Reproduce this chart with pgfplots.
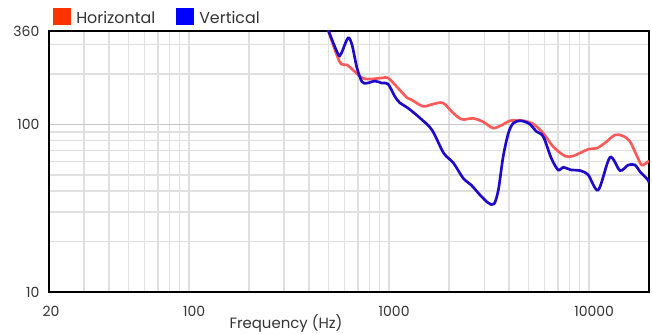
\documentclass[border=0pt]{standalone}
\usepackage{fontspec}
\setmainfont{Poppins}
\usepackage{pgfplots}
\pgfplotsset{compat=1.18}
\definecolor{hline}{RGB}{255,90,90}
\definecolor{vline}{RGB}{30,10,200}
\definecolor{hleg}{RGB}{255,51,0}
\definecolor{vleg}{RGB}{0,0,255}
\definecolor{txt}{RGB}{51,51,51}
\begin{document}
\begin{tikzpicture}
\begin{axis}[
  scale only axis,
  width=450pt, height=195.75pt,
  xmode=log, ymode=log,
  xmin=20, xmax=20000, ymin=10, ymax=360,
  xtick={20,100,1000,10000}, xticklabels={20,\kern5pt 100,\kern5pt 1000,\kern5pt 10000},
  ytick={10,100,360}, yticklabels={10,100,360},
  minor xtick={30,40,50,60,70,80,90,200,300,400,500,600,700,800,900,2000,3000,4000,5000,6000,7000,8000,9000},
  minor ytick={20,30,40,50,60,70,80,90,200,300},
  xmajorgrids, ymajorgrids, xminorgrids, yminorgrids,
  major tick length=0pt, minor tick length=0pt,
  major x grid style={color=black!13, line width=1.1pt},
  major y grid style={color=black!22, line width=1.1pt},
  minor grid style={color=black!12, line width=1.1pt},
  axis line style={black, line width=1.1pt},
  /pgf/number format/assume math mode=true,
  ticklabel style={font=\fontsize{10.5}{12}\selectfont, text=txt},
  xticklabel style={anchor=base, yshift=-18pt, xshift=1.5pt},
  yticklabel style={anchor=east, inner sep=0pt, xshift=-7pt},
]
\addplot[hline, line width=2pt, smooth] coordinates {
(474,419) (497,365) (545,266) (577,229) (618,226) (662,211) (735,189) (805,186)
(925,189) (991,189) (1099,167) (1233,144) (1300,140) (1483,128) (1664,132) (1867,134)
(2094,117) (2323,107) (2636,108.5) (2958,103.5) (3319,95) (3682,99) (4036,105)
(4700,105) (5300,100) (5920,88.5) (6640,73.5) (7600,64.7) (8350,64.7) (9930,71)
(10960,72) (12050,77.5) (13520,86.4) (14850,85.2) (16070,78.9) (17320,65.6)
(18390,57.2) (19750,59.8) (20000,60)
};
\addplot[vline, line width=2pt, smooth] coordinates {
(474,419) (497,365) (557,263) (577,263) (625,327) (655,297) (693,217) (735,179)
(778,176) (853,181) (925,176) (991,174) (1074,146) (1138,134) (1247,125) (1432,109)
(1644,92.5) (1880,67.4) (2104,58.8) (2357,47.6) (2580,43.5) (2858,37.9) (3140,34)
(3358,33.5) (3530,40.6) (3730,64) (3960,88.5) (4190,101.5) (4530,105) (4800,103.5)
(5080,100) (5480,90.5) (5920,84.5) (6500,62.6) (7030,53.4) (7440,55.4) (8200,53.4)
(9040,53) (9930,49.9) (11150,40.6) (12760,63.5) (14320,53) (15750,57.2) (17020,57.2)
(18030,52.2) (19750,46.6) (20000,44.7)
};
\end{axis}
\fill[hleg] ([xshift=3pt,yshift=4.5pt]current axis.north west) rectangle ([xshift=16.5pt,yshift=17pt]current axis.north west);
\node[anchor=base west, inner sep=0pt, text=txt, font=\fontsize{11.9}{13}\selectfont] at ([xshift=20.25pt,yshift=6pt]current axis.north west) {Horizontal};
\fill[vleg] ([xshift=95.25pt,yshift=4.5pt]current axis.north west) rectangle ([xshift=108.75pt,yshift=17pt]current axis.north west);
\node[anchor=base west, inner sep=0pt, text=txt, font=\fontsize{11.9}{13}\selectfont] at ([xshift=112.5pt,yshift=6pt]current axis.north west) {Vertical};
\node[anchor=base, inner sep=0pt, text=txt, font=\fontsize{11.2}{13}\selectfont] at ([xshift=177.75pt,yshift=-27pt]current axis.south west) {Frequency (Hz)};
\pgfresetboundingbox
\path ([xshift=-36.75pt,yshift=-30.75pt]current axis.south west) rectangle ([xshift=2.25pt,yshift=23.25pt]current axis.north east);
\end{tikzpicture}
\end{document}
